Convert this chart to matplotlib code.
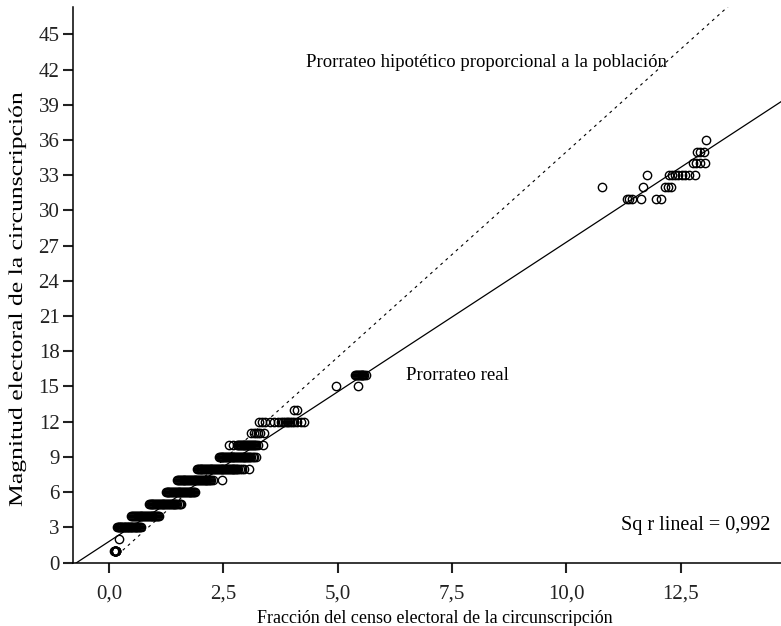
import matplotlib
matplotlib.use("Agg")
import matplotlib.pyplot as plt
import numpy as np
from matplotlib.patheffects import AbstractPathEffect
from matplotlib.transforms import Affine2D

plt.rcParams['font.family'] = ['Liberation Serif', 'DejaVu Serif']

# ---- data: seat magnitude -> census fraction (%) of each observation ----
seats1_x = [0.11, 0.12, 0.13, 0.13, 0.14, 0.14, 0.15, 0.15, 0.16, 0.14, 0.13, 0.15]
seats2_x = [0.22]
seats3_x = [0.17, 0.19, 0.21, 0.22, 0.24, 0.26, 0.27, 0.29, 0.31, 0.32, 0.34, 0.36,
            0.37, 0.39, 0.41, 0.42, 0.44, 0.46, 0.47, 0.49, 0.51, 0.53, 0.54, 0.56,
            0.58, 0.60, 0.62, 0.64, 0.66, 0.68, 0.70]
seats4_x = [0.49, 0.51, 0.53, 0.55, 0.57, 0.59, 0.61, 0.63, 0.65, 0.67, 0.69, 0.71,
            0.73, 0.75, 0.77, 0.79, 0.81, 0.83, 0.85, 0.87, 0.89, 0.91, 0.93, 0.95,
            0.97, 0.99, 1.01, 1.03, 1.05, 1.08, 1.10]
seats5_x = [0.87, 0.89, 0.91, 0.93, 0.95, 0.97, 0.99, 1.01, 1.03, 1.05, 1.07, 1.09,
            1.11, 1.13, 1.15, 1.17, 1.19, 1.21, 1.23, 1.25, 1.27, 1.29, 1.31, 1.33,
            1.35, 1.37, 1.39, 1.41, 1.43, 1.45, 1.47, 1.49, 1.52, 1.55, 1.57]
seats6_x = [1.24, 1.26, 1.28, 1.30, 1.32, 1.34, 1.36, 1.38, 1.40, 1.42, 1.44, 1.46,
            1.48, 1.50, 1.52, 1.54, 1.56, 1.58, 1.60, 1.62, 1.64, 1.66, 1.68, 1.70,
            1.72, 1.74, 1.76, 1.78, 1.80, 1.82, 1.84, 1.86, 1.89]
seats7_x = [1.49, 1.51, 1.53, 1.55, 1.57, 1.59, 1.61, 1.63, 1.65, 1.67, 1.69, 1.71,
            1.73, 1.75, 1.77, 1.79, 1.81, 1.83, 1.85, 1.87, 1.89, 1.91, 1.93, 1.95,
            1.97, 1.99, 2.01, 2.03, 2.05, 2.07, 2.09, 2.11, 2.13, 2.15, 2.17, 2.19,
            2.21, 2.24, 2.28, 2.47]
seats8_x = [1.92, 1.94, 1.96, 1.98, 2.00, 2.02, 2.04, 2.06, 2.08, 2.10, 2.12, 2.14,
            2.16, 2.18, 2.20, 2.22, 2.24, 2.26, 2.28, 2.30, 2.32, 2.34, 2.36, 2.38,
            2.40, 2.42, 2.44, 2.46, 2.48, 2.50, 2.52, 2.54, 2.56, 2.58, 2.60, 2.62,
            2.64, 2.66, 2.68, 2.70, 2.72, 2.74, 2.76, 2.78, 2.80, 2.83, 2.86, 2.90,
            2.94, 3.05]
seats9_x = [2.40, 2.42, 2.44, 2.46, 2.48, 2.50, 2.52, 2.54, 2.56, 2.58, 2.60, 2.62,
            2.64, 2.66, 2.68, 2.70, 2.72, 2.74, 2.76, 2.78, 2.80, 2.82, 2.84, 2.86,
            2.88, 2.90, 2.92, 2.94, 2.96, 2.98, 3.00, 3.02, 3.04, 3.06, 3.08, 3.11,
            3.14, 3.18, 3.22]
seats10_x = [2.62, 2.72, 2.80, 2.82, 2.84, 2.86, 2.88, 2.90, 2.92, 2.94, 2.96, 2.98,
             3.00, 3.02, 3.04, 3.06, 3.08, 3.10, 3.12, 3.14, 3.16, 3.19, 3.22, 3.26,
             3.37]
seats11_x = [3.11, 3.16, 3.21, 3.25, 3.30, 3.38]
seats12_x = [3.27, 3.35, 3.42, 3.52, 3.60, 3.70, 3.75, 3.80, 3.84, 3.88, 3.92, 3.96,
             4.00, 4.04, 4.12, 4.19, 4.26]
seats13_x = [4.05, 4.12]
seats15_x = [4.96, 5.45]
seats16_x = [5.38, 5.40, 5.42, 5.44, 5.46, 5.48, 5.50, 5.52, 5.54, 5.56, 5.58, 5.61]
seats31_x = [11.32, 11.37, 11.43, 11.63, 11.95, 12.06]
seats32_x = [10.77, 11.68, 12.15, 12.22, 12.29]
seats33_x = [11.75, 12.24, 12.30, 12.37, 12.44, 12.52, 12.60, 12.68, 12.81]
seats34_x = [12.76, 12.84, 12.92, 13.03]
seats35_x = [12.85, 12.92, 13.00]
seats36_x = [13.05]

series = {
    1: seats1_x, 2: seats2_x, 3: seats3_x, 4: seats4_x, 5: seats5_x, 6: seats6_x,
    7: seats7_x, 8: seats8_x, 9: seats9_x, 10: seats10_x, 11: seats11_x,
    12: seats12_x, 13: seats13_x, 15: seats15_x, 16: seats16_x, 31: seats31_x,
    32: seats32_x, 33: seats33_x, 34: seats34_x, 35: seats35_x, 36: seats36_x,
}

# fitted line and hypothetical proportional line
fit_intercept = 1.8
fit_slope = 2.55
prop_slope = 3.5

x_ticks = [0.0, 2.5, 5.0, 7.5, 10.0, 12.5]
x_ticklabels = ["0,0", "2,5", "5,0", "7,5", "10,0", "12,5"]
y_ticks = list(range(0, 46, 3))


class BaselineStretch(AbstractPathEffect):
    """Draw text stretched along its baseline about its centre."""

    def __init__(self, factor):
        super().__init__()
        self.factor = factor

    def draw_path(self, renderer, gc, tpath, affine, rgbFace=None):
        v = tpath.vertices
        cx = 0.5 * (v[:, 0].min() + v[:, 0].max()) if len(v) else 0.0
        stretch = (Affine2D().translate(-cx, 0).scale(self.factor, 1.0)
                   .translate(cx, 0))
        renderer.draw_path(gc, tpath, stretch + affine, rgbFace)


fig = plt.figure(figsize=(7.81, 6.26), dpi=100)
ax = fig.add_axes([0.0939, 0.1013, 0.9061, 0.887])

xmin, xmax = -0.78, 14.69
ymin, ymax = 0, 47.3

# lines
xl = np.array([xmin, xmax])
ax.plot(xl, fit_intercept + fit_slope * xl, color='black', lw=0.9, zorder=2)
xd = np.array([0.3, 14.0])
ax.plot(xd, prop_slope * xd, color='black', lw=0.8, dashes=(2.6, 3.6), zorder=2)

# points
xs, ys = [], []
for s, vals in series.items():
    xs.extend(vals)
    ys.extend([s] * len(vals))
ax.plot(xs, ys, linestyle='none', marker='o', markersize=6.0,
        markerfacecolor='none', markeredgecolor='black', markeredgewidth=1.0,
        zorder=3)

ax.set_xlim(xmin, xmax)
ax.set_ylim(ymin, ymax)

ax.spines['top'].set_visible(False)
ax.spines['right'].set_visible(False)
ax.spines['left'].set_linewidth(1.1)
ax.spines['bottom'].set_linewidth(1.1)

ax.set_xticks(x_ticks)
ax.set_xticklabels(x_ticklabels)
ax.set_yticks(y_ticks)
ax.tick_params(axis='both', direction='out', length=7, width=1.5,
               labelsize=15, colors='#222222')
ax.tick_params(axis='x', pad=9)
ax.tick_params(axis='y', pad=3)

ax.set_xlabel("Fracción del censo electoral de la circunscripción", fontsize=13)
ax.xaxis.label.set_va('center')
ax.xaxis.set_label_coords(0.5 + (435 - 427.1) / 707.7, -0.100)
ax.set_ylabel("Magnitud electoral de la circunscripción", fontsize=14)
ax.yaxis.label.set_va('center')
ax.yaxis.set_label_coords(-0.0790, 0.475)
ax.yaxis.label.set_path_effects([BaselineStretch(1.32)])

ax.text(8.25, 42.57, "Prorrateo hipotético proporcional a la población",
        fontsize=13.5, ha='center', va='center')
ax.text(6.5, 15.9, "Prorrateo real", fontsize=13.5, ha='left', va='center')
ax.text(14.45, 3.2, "Sq r lineal = 0,992", fontsize=14.5, ha='right', va='center')

fig.savefig("out.png", dpi=100)
